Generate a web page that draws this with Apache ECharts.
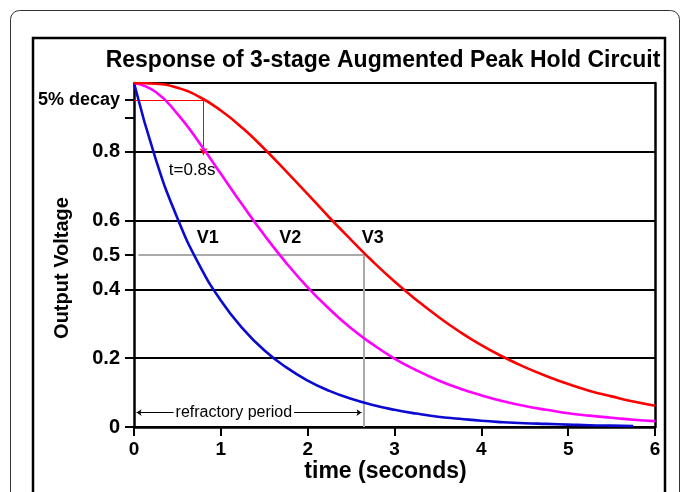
<!DOCTYPE html>
<html>
<head>
<meta charset="utf-8">
<script src="https://cdn.jsdelivr.net/npm/echarts@6/dist/echarts.min.js"></script>
<style>
html,body{margin:0;padding:0;background:#fff;}
#chart{width:683px;height:492px;}
</style>
</head>
<body>
<div id="chart"></div>
<script>
// ---- data ----
var times = [0,0.25,0.5,0.75,1,1.25,1.5,1.75,2,2.25,2.5,2.75,3,3.25,3.5,3.75,4,4.25,4.5,4.75,5,5.25,5.5,5.75,6];
var v1 = [1,0.779,0.607,0.472,0.368,0.287,0.223,0.174,0.135,0.105,0.082,0.064,0.050,0.039,0.030,0.024,0.018,0.014,0.011,0.009,0.007,0.005,0.004,0.003];
var v2 = [1,0.974,0.910,0.827,0.736,0.645,0.558,0.478,0.406,0.343,0.287,0.240,0.199,0.165,0.136,0.112,0.092,0.075,0.061,0.050,0.040,0.033,0.027,0.021,0.017];
var v3 = [1,0.998,0.986,0.960,0.920,0.869,0.809,0.744,0.677,0.609,0.544,0.481,0.423,0.370,0.321,0.277,0.238,0.204,0.174,0.148,0.125,0.105,0.089,0.074,0.062];
var seriesNames = ['V1','V2','V3'];
var labelPos = [[0.85,0.55],[1.8,0.55],[2.75,0.55]];
var xTicks = [0,1,2,3,4,5,6];
var yTickValues = [0,0.2,0.4,0.5,0.6,0.8,0.9,0.95,1];
var yLabelValues = [0,0.2,0.4,0.5,0.6,0.8,0.95,1];
var halfLevel = 0.5, halfTime = 2.65;
var decayLevel = 0.95, decayTime = 0.8, decayTarget = 0.79;
var refractoryLevel = 0.042;
var refractoryLabelPos = [1.15, 0.042];
var decayLabelPos = [0.67,0.745];

function pairs(vals){ return vals.map(function(v,i){ return [times[i], v]; }); }

var font = "'Liberation Sans', Arial, sans-serif";
var chart = echarts.init(document.getElementById('chart'), null, {renderer:'canvas'});
var colors = ['#0a0ad0','#ff00ff','#ff0000'];
var data = [v1, v2, v3];

var series = data.map(function(vals, i){
  return {
    name: seriesNames[i], type: 'line', data: pairs(vals), smooth: true,
    showSymbol: false, symbol: 'none', z: 5,
    lineStyle: {color: colors[i], width: 2.6},
    markPoint: {
      silent: true, symbol: 'circle', symbolSize: 1,
      itemStyle: {color: 'rgba(0,0,0,0)'},
      label: {show: true, position: 'inside', formatter: seriesNames[i], color: '#000',
              fontFamily: font, fontWeight: 'bold', fontSize: 18},
      data: [{coord: labelPos[i]}]
    }
  };
});

function txt(text, pos, size, bg){
  return {coord: pos, label: {show:true, position:'inside', formatter:text, color:'#000',
    fontFamily:font, fontSize:size, backgroundColor:bg || 'transparent', padding:[0,2]}};
}

// annotations
series.push({
  type: 'line', data: [], silent: true, z: 4,
  markLine: {
    silent: true, symbol: 'none', animation: false,
    label: {show: false},
    data: [
      [{coord:[0.05, halfLevel], lineStyle:{color:'#aaaaaa', width:2, type:'solid'}}, {coord:[halfTime, halfLevel]}],
      [{coord:[halfTime, halfLevel], lineStyle:{color:'#aaaaaa', width:2, type:'solid'}}, {coord:[halfTime, 0]}],
      [{coord:[0, decayLevel], lineStyle:{color:'#ff0000', width:1, type:'solid'}}, {coord:[decayTime, decayLevel]}],
      [{coord:[decayTime, decayLevel], symbol:'none', lineStyle:{color:'#ff0000', width:1, type:'solid'}},
       {coord:[decayTime, decayTarget], symbol:'arrow', symbolSize:[6,7]}],
      [{coord:[0.03, refractoryLevel], symbol:'arrow', symbolSize:[5,5], lineStyle:{color:'#000', width:1, type:'solid'}},
       {coord:[halfTime-0.03, refractoryLevel], symbol:'arrow', symbolSize:[5,5]}]
    ]
  },
  markPoint: {
    silent: true, symbol: 'circle', symbolSize: 1, z: 6,
    itemStyle: {color: 'rgba(0,0,0,0)'},
    data: [txt('t=0.8s', decayLabelPos, 17), txt('refractory period', refractoryLabelPos, 16, '#fff')]
  }
});

var option = {
  animation: false,
  backgroundColor: '#fff',
  title: {
    text: 'Response of 3-stage Augmented Peak Hold Circuit',
    left: 378, top: 44, textAlign: 'center',
    textStyle: {fontFamily: font, fontWeight: 'bold', fontSize: 23, color: '#000'}
  },
  graphic: [
    {type:'rect', shape:{x:10.5, y:10.5, width:669, height:520, r:9}, style:{fill:'none', stroke:'#333', lineWidth:1}, z:-10},
    {type:'rect', shape:{x:33, y:38, width:632, height:500}, style:{fill:'none', stroke:'#000', lineWidth:2.5}, z:-10}
  ],
  grid: {left:134, right:28, top:83, bottom:65, containLabel:false},
  xAxis: {
    type: 'value', min: 0, max: 6, interval: 1,
    axisLine: {show:true, onZero:false, lineStyle:{color:'#000', width:2.5}},
    axisTick: {show:true, length:9, lineStyle:{color:'#000', width:2}},
    axisLabel: {show:true, margin:13, color:'#000', fontFamily:font, fontWeight:'bold', fontSize:19,
                customValues: xTicks, formatter: function(v){ return String(v); }},
    splitLine: {show:false},
    name: 'time (seconds)', nameLocation: 'middle', nameGap: 33, nameMoveOverlap: false,
    nameTextStyle: {color:'#000', fontFamily:font, fontWeight:'bold', fontSize:23, padding:[0,18,0,0]}
  },
  yAxis: [{
    type: 'value', min: 0, max: 1, position: 'left',
    axisLine: {show:true, onZero:false, lineStyle:{color:'#000', width:2.5}},
    axisTick: {show:true, length:9, customValues: yTickValues, lineStyle:{color:'#000', width:2}},
    axisLabel: {show:true, margin:14, customValues: yLabelValues, color:'#000',
      fontFamily:font, fontWeight:'bold', fontSize:20,
      formatter: function(v){
        if (v === 0) return '0';
        if (Math.abs(v-0.95) < 1e-6) return '{s|5% decay}';
        return v.toFixed(1);
      },
      rich: {s:{fontFamily:font, fontWeight:'bold', fontSize:18, color:'#000'}}
    },
    splitLine: {show:false},
    name: 'Output Voltage', nameLocation: 'middle', nameGap: 62, nameRotate: 90, nameMoveOverlap: false,
    nameTextStyle: {color:'#000', fontFamily:font, fontWeight:'bold', fontSize:20, padding:[0,26,0,0]}
  },{
    type: 'value', min: 0, max: 1, interval: 0.2, position: 'right',
    axisLine: {show:true, onZero:false, lineStyle:{color:'#000', width:2.5}},
    axisTick: {show:false}, axisLabel: {show:false},
    splitLine: {show:true, lineStyle:{color:'#000', width:2}}
  }],
  series: series
};
chart.setOption(option);
</script>
</body>
</html>
